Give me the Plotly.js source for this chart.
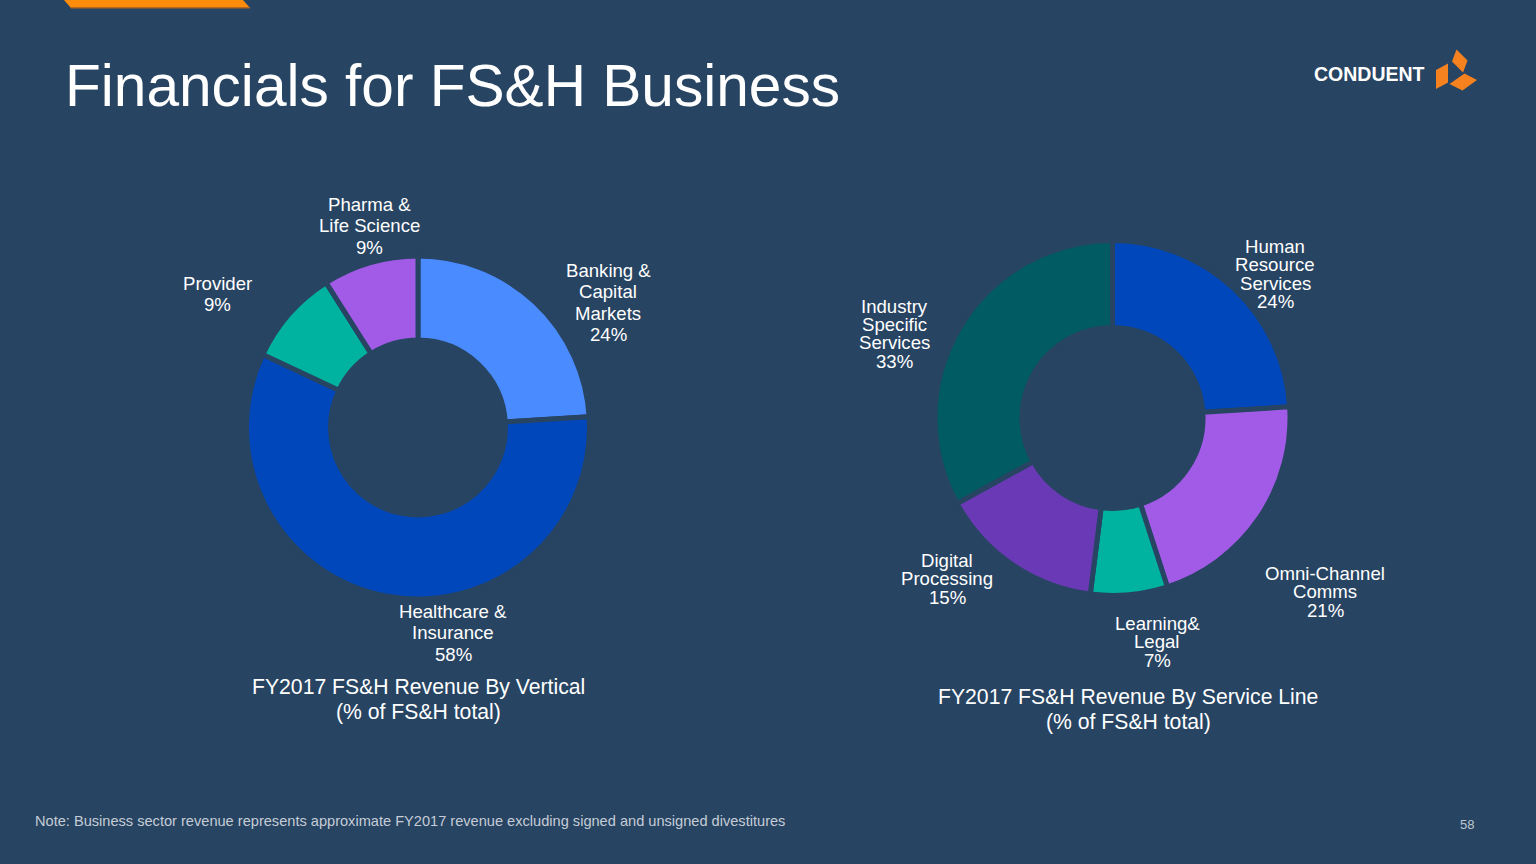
<!DOCTYPE html>
<html>
<head>
<meta charset="utf-8">
<script src="https://cdn.plot.ly/plotly-3.0.1.min.js"></script>
<style>
  html, body { margin: 0; padding: 0; background: #274462; }
  #chart { width: 1536px; height: 864px; }
</style>
</head>
<body>
<div id="chart"></div>
<script>
// FY2017 FS&H revenue by vertical (% of FS&H total)
var verticalLabels = ['Banking &<br>Capital<br>Markets', 'Healthcare &<br>Insurance', 'Provider', 'Pharma &<br>Life Science'];
var verticalValues = [24, 58, 9, 9];
var verticalColors = ['#4A8CFF', '#0047BB', '#00B2A0', '#A15BE6'];

// FY2017 FS&H revenue by service line (% of FS&H total)
var serviceLabels = ['Human<br>Resource<br>Services', 'Omni-Channel<br>Comms', 'Learning&<br>Legal', 'Digital<br>Processing', 'Industry<br>Specific<br>Services'];
var serviceValues = [24, 21, 7, 15, 33];
var serviceColors = ['#0047BB', '#A15BE6', '#00B2A0', '#6A3AB6', '#005B63'];

var chartTitles = ['FY2017 FS&H Revenue By Vertical', 'FY2017 FS&H Revenue By Service Line'];
var chartSubtitle = '(% of FS&H total)';

var bg = '#274462';
var W = 1536, H = 864;
function px(x) { return x / W; }
function py(y) { return 1 - y / H; }

function donut(values, labels, colors, cx, cy, r, hole) {
  return {
    type: 'pie',
    values: values,
    labels: labels,
    sort: false,
    direction: 'clockwise',
    rotation: 0,
    hole: hole,
    textinfo: 'none',
    hoverinfo: 'label+percent',
    marker: {colors: colors, line: {color: bg, width: 5}},
    domain: {x: [px(cx - r), px(cx + r)], y: [py(cy + r), py(cy - r)]},
    showlegend: false
  };
}

var data = [
  donut(verticalValues, verticalLabels, verticalColors, 418, 427.5, 171.5, 0.51),
  donut(serviceValues, serviceLabels, serviceColors, 1112.5, 418, 177.5, 0.51)
];

var annotations = [];
var labelFont = {family: 'Liberation Sans, Arial, sans-serif', size: 18.6, color: '#FFFFFF'};

// label anchors (centre x, first line y), one per slice
var verticalSpots = [[608, 270], [453, 611], [217, 283], [369, 204]];
var serviceSpots = [[1275, 246], [1325, 573], [1157, 623], [947, 560], [894, 306]];

function addLines(lines, x, y0, spacing, font) {
  for (var j = 0; j < lines.length; j++) {
    annotations.push({
      xref: 'paper', yref: 'paper',
      x: px(x), y: py(y0 + j * spacing),
      xanchor: 'center', yanchor: 'middle',
      text: lines[j], showarrow: false, font: font
    });
  }
}

function addLabels(labels, values, spots, spacing) {
  for (var i = 0; i < labels.length; i++) {
    var lines = labels[i].split('<br>').concat([values[i] + '%']);
    addLines(lines, spots[i][0], spots[i][1], spacing, labelFont);
  }
}
addLabels(verticalLabels, verticalValues, verticalSpots, 21.5);
addLabels(serviceLabels, serviceValues, serviceSpots, 18.5);

var subFont = {family: 'Liberation Sans, Arial, sans-serif', size: 21.2, color: '#FFFFFF'};
addLines([chartTitles[0], chartSubtitle], 418, 687, 25, subFont);
addLines([chartTitles[1], chartSubtitle], 1128, 697, 25, subFont);

// slide chrome
annotations.push({
  xref: 'paper', yref: 'paper', x: px(63), y: py(86), xanchor: 'left', yanchor: 'middle',
  text: 'Financials for FS&H Business', showarrow: false,
  font: {family: 'Liberation Sans, Arial, sans-serif', size: 58.6, color: '#FFFFFF'}
});
annotations.push({
  xref: 'paper', yref: 'paper', x: px(1427), y: py(74), xanchor: 'right', yanchor: 'middle',
  text: '<b>CONDUENT</b>', showarrow: false,
  font: {family: 'Liberation Sans, Arial, sans-serif', size: 19.5, color: '#FFFFFF'}
});
annotations.push({
  xref: 'paper', yref: 'paper', x: px(33), y: py(821), xanchor: 'left', yanchor: 'middle',
  text: 'Note: Business sector revenue represents approximate FY2017 revenue excluding signed and unsigned divestitures',
  showarrow: false, font: {family: 'Liberation Sans, Arial, sans-serif', size: 14.6, color: '#C5CCD6'}
});
annotations.push({
  xref: 'paper', yref: 'paper', x: px(1476), y: py(824), xanchor: 'right', yanchor: 'middle',
  text: '58', showarrow: false, font: {family: 'Liberation Sans, Arial, sans-serif', size: 13, color: '#BFC7D1'}
});

function poly(pts, color) {
  var d = pts.map(function (p, k) { return (k ? 'L' : 'M') + px(p[0]) + ',' + py(p[1]); }).join(' ') + ' Z';
  return {type: 'path', xref: 'paper', yref: 'paper', path: d, fillcolor: color, line: {width: 0}, layer: 'above'};
}

var shapes = [
  poly([[64, 0], [243, 0], [250, 8], [71, 8]], '#FF8C0A'),
  poly([[70, 7], [249, 7], [250, 8.5], [71, 8.5]], '#B4661A'),
  poly([[1456.5, 49.5], [1467.5, 60.5], [1463, 72.5], [1452, 61.5]], '#F6821F'),
  poly([[1436, 70], [1448, 63.5], [1448, 82.5], [1436, 89]], '#F6821F'),
  poly([[1449.5, 84], [1464.5, 73.5], [1477, 80], [1462.5, 90.5]], '#F6821F')
];

var layout = {
  width: W, height: H,
  margin: {l: 0, r: 0, t: 0, b: 0},
  paper_bgcolor: bg,
  plot_bgcolor: bg,
  annotations: annotations,
  shapes: shapes,
  showlegend: false
};

Plotly.newPlot('chart', data, layout, {displayModeBar: false, staticPlot: true});
</script>
</body>
</html>
